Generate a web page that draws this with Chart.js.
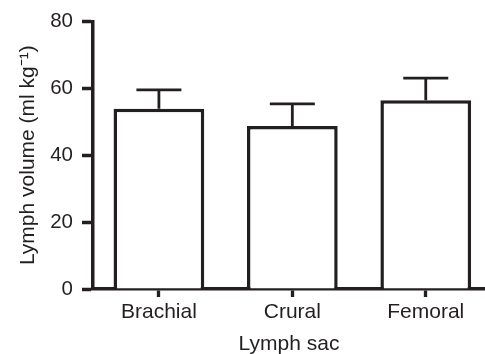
<!DOCTYPE html>
<html>
<head>
<meta charset="utf-8">
<script src="https://cdn.jsdelivr.net/npm/chart.js@4/dist/chart.umd.min.js"></script>
<style>
  body { margin: 0; background: #fff; }
</style>
</head>
<body>
<canvas id="chart" width="485" height="354"></canvas>
<script>
const categories = ["Brachial", "Crural", "Femoral"];
const volumes = [53.9, 48.7, 56.4];
const errors = [5.6, 6.6, 6.6];
const yTicks = [0, 20, 40, 60, 80];

const ink = "#231f20";
const font = "'Liberation Sans', Arial, sans-serif";

// upper error bars, drawn from the data through the scales
const errorBars = {
    id: "errorBars",
    afterDatasetsDraw(chart) {
        const ctx = chart.ctx;
        const x = chart.scales.x;
        const y = chart.scales.y;
        ctx.save();
        ctx.strokeStyle = ink;
        ctx.lineWidth = 2.8;
        volumes.forEach((v, i) => {
            const px = x.getPixelForValue(i);
            const top = y.getPixelForValue(v + errors[i]);
            const base = y.getPixelForValue(v);
            ctx.beginPath();
            ctx.moveTo(px, base);
            ctx.lineTo(px, top);
            ctx.moveTo(px - 22.5, top);
            ctx.lineTo(px + 22.5, top);
            ctx.stroke();
        });
        ctx.restore();
    }
};

new Chart(document.getElementById("chart").getContext("2d"), {
    type: "bar",
    data: {
        datasets: [{
            data: volumes.map((v, i) => ({ x: i, y: v })),
            backgroundColor: "#fff",
            borderColor: ink,
            borderWidth: 3.5,
            barPercentage: 0.68,
            categoryPercentage: 1
        }]
    },
    options: {
        responsive: false,
        animation: false,
        layout: { padding: { top: 20, right: 0, bottom: 0, left: 0 } },
        plugins: { legend: { display: false }, tooltip: { enabled: false } },
        scales: {
            x: {
                type: "linear",
                offset: false,
                min: -0.494,
                max: 2.444,
                afterBuildTicks: (s) => { s.ticks = categories.map((c, i) => ({ value: i })); },
                afterFit: (s) => { s.height = 65; },
                ticks: {
                    callback: (v) => categories[v],
                    color: ink,
                    font: { family: font, size: 21 },
                    padding: 3,
                    maxRotation: 0
                },
                grid: { offset: false, drawOnChartArea: false, tickLength: 8, tickWidth: 3.3, tickColor: ink },
                border: { color: ink, width: 3.5 },
                title: {
                    display: true,
                    text: "Lymph sac",
                    color: ink,
                    font: { family: font, size: 21 },
                    padding: { top: 0, bottom: -3 }
                }
            },
            y: {
                min: 0,
                max: 80,
                afterBuildTicks: (s) => { s.ticks = yTicks.map(v => ({ value: v })); },
                afterFit: (s) => { s.width = 93; },
                ticks: {
                    color: ink,
                    font: { family: font, size: 20.5 },
                    padding: 9
                },
                grid: { drawOnChartArea: false, tickLength: 11, tickWidth: 3.5, tickColor: ink },
                border: { color: ink, width: 3.5 },
                title: {
                    display: true,
                    text: "Lymph volume (ml kg\u207B\u00B9)",
                    color: ink,
                    font: { family: font, size: 21 },
                    padding: { top: 16, bottom: 0 }
                }
            }
        }
    },
    plugins: [errorBars]
});
</script>
</body>
</html>
